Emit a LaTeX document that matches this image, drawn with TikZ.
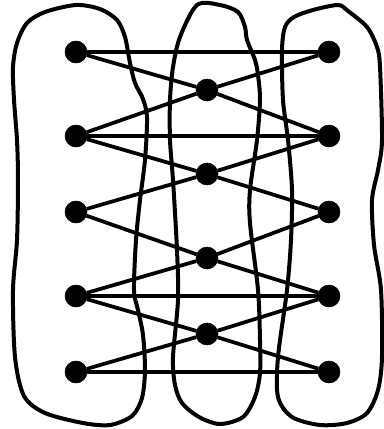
\documentclass[tikz,border=0pt]{standalone}
\usepackage{tikz}
\tikzstyle{vertex} = [circle, fill=black, draw=black, minimum size=16.5pt, inner sep=0pt]
\tikzstyle{edge} = [line width=2.8pt]
\tikzstyle{blob} = [line width=3pt, line join=round]

\begin{document}
\begin{tikzpicture}[x=0.75pt, y=-0.75pt]
    \useasboundingbox (0,0) rectangle (383,429);
    % the three parts
    \draw[blob] plot[smooth cycle, tension=0.5] coordinates {(76,5) (100,9) (117,20) (125,37) (130,63) (135,83) (143,99) (147,118) (145,160) (140,200) (136,240) (134,290) (138,310) (143,335) (145,370) (142,398) (132,416) (110,425) (83,423) (45,413) (24,396) (15,357) (13,290) (17,240) (18,180) (17,140) (14,100) (13,67) (17,43) (27,23) (45,12)};
    \draw[blob] plot[smooth cycle, tension=0.5] coordinates {(197,5) (220,5) (238,12) (245,27) (247,40) (255,60) (258,75) (260,100) (257,140) (250,190) (250,223) (258,290) (260,340) (260,373) (255,397) (243,417) (220,424) (199,417) (182,403) (175,385) (173,357) (178,300) (177,250) (173,180) (170,140) (170,100) (173,67) (180,37)};
    \draw[blob] plot[smooth cycle, tension=0.5] coordinates {(338,5) (348,11) (367,27) (377,47) (380,67) (382,140) (378,170) (372,200) (374,245) (381,290) (382,357) (378,390) (367,413) (347,423) (320,425) (292,417) (278,397) (278,357) (287,290) (291,240) (292,190) (288,140) (283,100) (282,50) (285,27) (294,17) (313,10)};
    % vertices
    \node[vertex] (l1) at (76,52) {};
    \node[vertex] (l2) at (76,136) {};
    \node[vertex] (l3) at (76,212) {};
    \node[vertex] (l4) at (76,296) {};
    \node[vertex] (l5) at (76,372) {};
    \node[vertex] (m1) at (207,90) {};
    \node[vertex] (m2) at (207,174) {};
    \node[vertex] (m3) at (207,258) {};
    \node[vertex] (m4) at (207,334) {};
    \node[vertex] (r1) at (329,52) {};
    \node[vertex] (r2) at (329,136) {};
    \node[vertex] (r3) at (329,212) {};
    \node[vertex] (r4) at (329,296) {};
    \node[vertex] (r5) at (329,372) {};
    % edges
    \draw[edge] (l1) -- (r1);
    \draw[edge] (l2) -- (r2);
    \draw[edge] (l4) -- (r4);
    \draw[edge] (l5) -- (r5);
    \draw[edge] (l1) -- (m1);
    \draw[edge] (m1) -- (r2);
    \draw[edge] (r1) -- (m1);
    \draw[edge] (m1) -- (l2);
    \draw[edge] (l2) -- (m2);
    \draw[edge] (m2) -- (r3);
    \draw[edge] (r2) -- (m2);
    \draw[edge] (m2) -- (l3);
    \draw[edge] (l3) -- (m3);
    \draw[edge] (m3) -- (r4);
    \draw[edge] (r3) -- (m3);
    \draw[edge] (m3) -- (l4);
    \draw[edge] (l4) -- (m4);
    \draw[edge] (m4) -- (r5);
    \draw[edge] (r4) -- (m4);
    \draw[edge] (m4) -- (l5);
\end{tikzpicture}
\end{document}
